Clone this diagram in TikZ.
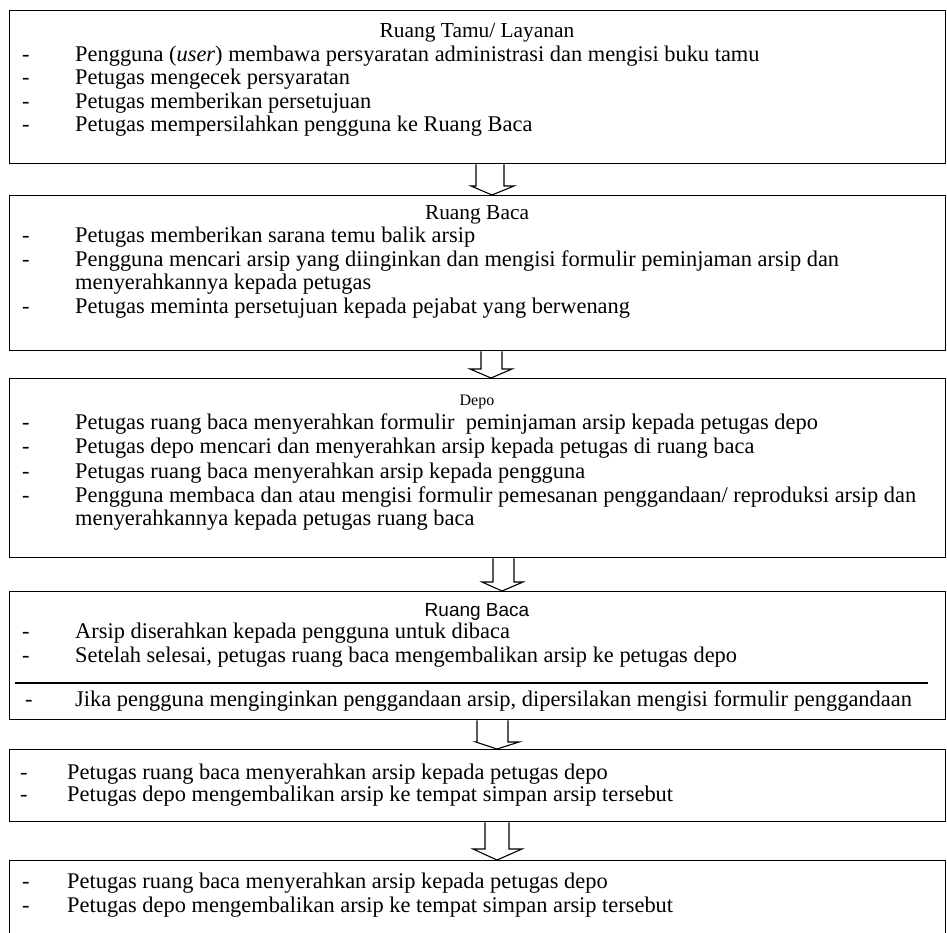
\documentclass[tikz,border=0pt]{standalone}
\usepackage{fontspec}
\setmainfont{Liberation Serif}
\newfontfamily\titlesans{Liberation Sans}
\begin{document}
\begin{tikzpicture}[x=1pt,y=-1pt,
        box/.style={draw=black,line width=1.3pt,anchor=north west,inner sep=0pt,minimum width=936pt},
        txt/.style={anchor=base west,inner sep=0pt,font=\fontsize{22.4}{24}\selectfont},
        ttl/.style={anchor=base,inner sep=0pt,font=\fontsize{21.4}{24}\selectfont},
        blk/.style={draw=black,line width=1.1pt,line join=miter}]
        \useasboundingbox (0,0) rectangle (947,932);

        \node[box,minimum height=153pt] (B1) at (9,10) {};
        \node[box,minimum height=155pt] (B2) at (9,195) {};
        \node[box,minimum height=179pt] (B3) at (9,378) {};
        \node[box,minimum height=128pt] (B4) at (9,591) {};
        \node[box,minimum height=72pt] (B5) at (9,749) {};
        \node[box,minimum height=100pt] (B6) at (9,860) {};

        \node[ttl] (T1) at (477,37) {Ruang Tamu/ Layanan};
        \node[txt] (d11) at (22,61) {-};
        \node[txt] (l11) at (75,61) {Pengguna (\textit{user}) membawa persyaratan administrasi dan mengisi buku tamu};
        \node[txt] (d12) at (22,84.5) {-};
        \node[txt] (l12) at (75,84.5) {Petugas mengecek persyaratan};
        \node[txt] (d13) at (22,108) {-};
        \node[txt] (l13) at (75,108) {Petugas memberikan persetujuan};
        \node[txt] (d14) at (22,131.5) {-};
        \node[txt] (l14) at (75,131.5) {Petugas mempersilahkan pengguna ke Ruang Baca};

        \node[ttl] (T2) at (477,219) {Ruang Baca};
        \node[txt] (d21) at (22,242.5) {-};
        \node[txt] (l21) at (75,242.5) {Petugas memberikan sarana temu balik arsip};
        \node[txt] (d22) at (22,266) {-};
        \node[txt] (l22) at (75,266) {Pengguna mencari arsip yang diinginkan dan mengisi formulir peminjaman arsip dan};
        \node[txt] (l22b) at (75,289.5) {menyerahkannya kepada petugas};
        \node[txt] (d23) at (22,313) {-};
        \node[txt] (l23) at (75,313) {Petugas meminta persetujuan kepada pejabat yang berwenang};

        \node[ttl,font=\fontsize{16}{18}\selectfont] (T3) at (477,405) {Depo};
        \node[txt] (d31) at (22,429) {-};
        \node[txt] (l31) at (75,429) {Petugas ruang baca menyerahkan formulir\ \ peminjaman arsip kepada petugas depo};
        \node[txt] (d32) at (22,453.5) {-};
        \node[txt] (l32) at (75,453.5) {Petugas depo mencari dan menyerahkan arsip kepada petugas di ruang baca};
        \node[txt] (d33) at (22,478) {-};
        \node[txt] (l33) at (75,478) {Petugas ruang baca menyerahkan arsip kepada pengguna};
        \node[txt] (d34) at (22,502) {-};
        \node[txt] (l34) at (75,502) {Pengguna membaca dan atau mengisi formulir pemesanan penggandaan/ reproduksi arsip dan};
        \node[txt] (l34b) at (75,525.5) {menyerahkannya kepada petugas ruang baca};

        \node[ttl,font=\titlesans\fontsize{19}{22}\selectfont] (T4) at (477,616) {Ruang Baca};
        \node[txt] (d41) at (22,638) {-};
        \node[txt] (l41) at (75,638) {Arsip diserahkan kepada pengguna untuk dibaca};
        \node[txt] (d42) at (22,662) {-};
        \node[txt] (l42) at (75,662) {Setelah selesai, petugas ruang baca mengembalikan arsip ke petugas depo};
        \draw[line width=1.3pt] (15,683) -- (928,683);
        \node[txt] (d43) at (25,706) {-};
        \node[txt] (l43) at (75,706) {Jika pengguna menginginkan penggandaan arsip, dipersilakan mengisi formulir penggandaan};

        \node[txt] (d51) at (20,779) {-};
        \node[txt] (l51) at (67,779) {Petugas ruang baca menyerahkan arsip kepada petugas depo};
        \node[txt] (d52) at (20,801) {-};
        \node[txt] (l52) at (67,801) {Petugas depo mengembalikan arsip ke tempat simpan arsip tersebut};

        \node[txt] (d61) at (22,888) {-};
        \node[txt] (l61) at (67,888) {Petugas ruang baca menyerahkan arsip kepada petugas depo};
        \node[txt] (d62) at (22,912) {-};
        \node[txt] (l62) at (67,912) {Petugas depo mengembalikan arsip ke tempat simpan arsip tersebut};

        \draw[blk] (476,0 |- B1.south) -- (476,186) -- (471,186) -- (492,0 |- B2.north) -- (514,186) -- (504,186) -- (504,0 |- B1.south);
        \draw[blk] (481,0 |- B2.south) -- (481,369) -- (470,369) -- (491,0 |- B3.north) -- (512,369) -- (502,369) -- (502,0 |- B2.south);
        \draw[blk] (493,0 |- B3.south) -- (493,582) -- (482,582) -- (502,0 |- B4.north) -- (523,582) -- (514,582) -- (514,0 |- B3.south);
        \draw[blk] (477,0 |- B4.south) -- (477,742) -- (476,742) -- (497,0 |- B5.north) -- (519,742) -- (508,742) -- (508,0 |- B4.south);
        \draw[blk] (485,0 |- B5.south) -- (485,849) -- (473,849) -- (497,0 |- B6.north) -- (522,849) -- (509,849) -- (509,0 |- B5.south);
\end{tikzpicture}
\end{document}
